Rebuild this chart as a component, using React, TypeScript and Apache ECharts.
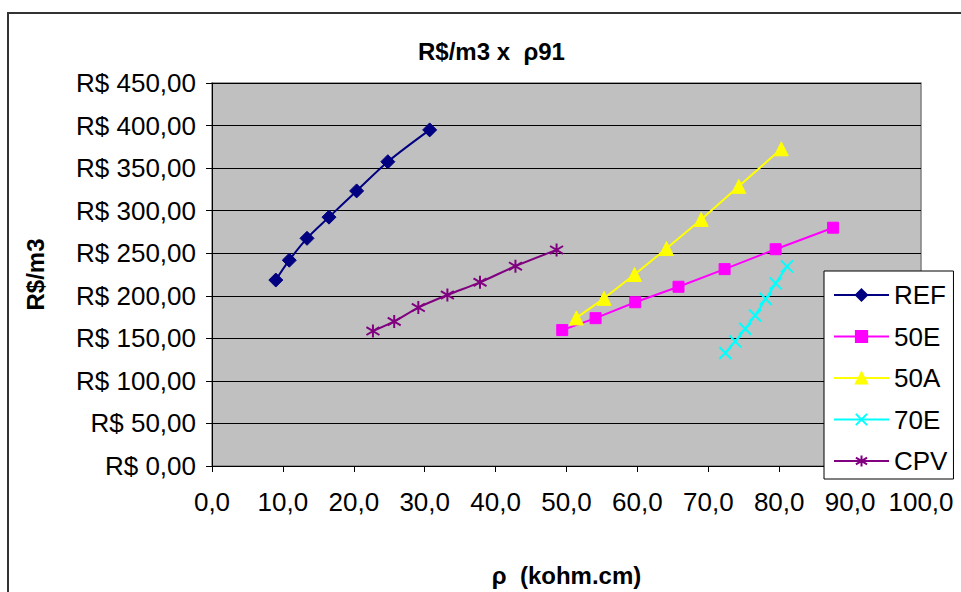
import React, { useEffect, useRef } from "react";
import * as echarts from "echarts";

const seriesNames = ["REF", "50E", "50A", "70E", "CPV"];

const refX = [9.0, 10.9, 13.4, 16.5, 20.4, 24.8, 30.7];
const refY = [218.5, 241.8, 267.5, 292.4, 323.2, 357.5, 394.9];

const e50X = [49.4, 54.1, 59.7, 65.8, 72.3, 79.5, 87.6];
const e50Y = [159.7, 173.7, 192.4, 210.6, 231.3, 254.7, 280.0];

const a50X = [51.4, 55.3, 59.6, 64.1, 69.0, 74.3, 80.3];
const a50Y = [174.0, 197.0, 225.0, 255.5, 289.7, 328.6, 372.7];

const e70X = [72.4, 73.8, 75.2, 76.6, 78.1, 79.5, 81.1];
const e70Y = [132.8, 146.4, 161.2, 176.8, 196.3, 214.6, 234.5];

const cpvX = [22.7, 25.7, 29.1, 33.2, 37.8, 42.8, 48.6];
const cpvY = [158.5, 169.8, 186.1, 200.9, 215.8, 234.8, 253.9];

const FONT = "'Liberation Sans', Arial, sans-serif";

const pair = (xs: number[], ys: number[]) => xs.map((x, i) => [x, ys[i]]);

const X_SYMBOL = "path://M0,0L10,10M10,0L0,10";
const STAR_SYMBOL = "path://M5,0L5,10M0,2L10,8M0,8L10,2";

export default function App() {
  const ref = useRef<HTMLDivElement>(null);
  useEffect(() => {
    if (!ref.current) return;
    const chart = echarts.init(ref.current, undefined, { renderer: "svg" });
    const mk = (
      name: string,
      data: number[][],
      color: string,
      symbol: string,
      size: number,
      smooth: boolean | number,
      stroke: boolean
    ) => ({
      name,
      type: "line",
      data,
      smooth,
      symbol,
      symbolSize: size,
      lineStyle: { color, width: 2 },
      itemStyle: stroke
        ? { color, borderColor: color, borderWidth: 2 }
        : { color, borderColor: color, borderWidth: 1 },
      emphasis: { disabled: true },
    });
    chart.setOption({
      animation: false,
      backgroundColor: "#ffffff",
      textStyle: { fontFamily: FONT, color: "#000" },
      title: {
        text: "R$/m3 x  ρ91",
        left: 413,
        top: 34,
        textStyle: { fontFamily: FONT, fontSize: 24, fontWeight: "bold", color: "#000" },
      },
      graphic: [
        {
          type: "rect",
          z: -10,
          shape: { x: 8, y: 13, width: 1000, height: 1000 },
          style: { fill: "none", stroke: "#333", lineWidth: 2 },
        },
      ],
      grid: {
        left: 212,
        top: 83,
        right: 40,
        bottom: 124,
        show: true,
        backgroundColor: "#C0C0C0",
        borderColor: "#808080",
        borderWidth: 1.5,
      },
      legend: {
        orient: "vertical",
        left: 824,
        top: 271,
        data: seriesNames,
        itemWidth: 55,
        itemHeight: 14,
        itemGap: 15.5,
        padding: [11, 6, 5, 9],
        backgroundColor: "#fff",
        borderColor: "#000",
        borderWidth: 1,
        textStyle: { fontFamily: FONT, fontSize: 26, color: "#000", lineHeight: 26 },
      },
      xAxis: {
        type: "value",
        min: 0,
        max: 100,
        interval: 10,
        name: "ρ  (kohm.cm)",
        nameLocation: "middle",
        nameGap: 97,
        nameTextStyle: { fontFamily: FONT, fontSize: 24, fontWeight: "bold", color: "#000" },
        axisLine: { show: true, lineStyle: { color: "#000", width: 1 } },
        axisTick: { show: true, length: 6, lineStyle: { color: "#000" } },
        axisLabel: {
          margin: 23,
          fontFamily: FONT,
          fontSize: 26,
          color: "#000",
          formatter: (v: number) => v.toFixed(1).replace(".", ","),
        },
        splitLine: { show: false },
      },
      yAxis: {
        type: "value",
        min: 0,
        max: 450,
        interval: 50,
        name: "R$/m3",
        nameLocation: "middle",
        nameGap: 165,
        nameTextStyle: { fontFamily: FONT, fontSize: 24, fontWeight: "bold", color: "#000" },
        axisLine: { show: true, lineStyle: { color: "#000", width: 1 } },
        axisTick: { show: true, length: 6, lineStyle: { color: "#000" } },
        axisLabel: {
          margin: 16,
          fontFamily: FONT,
          fontSize: 26,
          color: "#000",
          formatter: (v: number) => "R$ " + v.toFixed(2).replace(".", ","),
        },
        splitLine: { show: true, lineStyle: { color: "#000", width: 1 } },
      },
      series: [
        mk("REF", pair(refX, refY), "#000080", "diamond", 14, 0.3, false),
        mk("50E", pair(e50X, e50Y), "#FF00FF", "rect", 11, false, false),
        mk("50A", pair(a50X, a50Y), "#FFFF00", "triangle", 14, false, false),
        mk("70E", pair(e70X, e70Y), "#00FFFF", X_SYMBOL, 12, false, true),
        mk("CPV", pair(cpvX, cpvY), "#800080", STAR_SYMBOL, 13, 0.3, true),
      ],
    });
    return () => chart.dispose();
  }, []);
  return (
    <div
      ref={ref}
      style={{ position: "fixed", left: 0, top: 0, width: 961, height: 592 }}
    />
  );
}
